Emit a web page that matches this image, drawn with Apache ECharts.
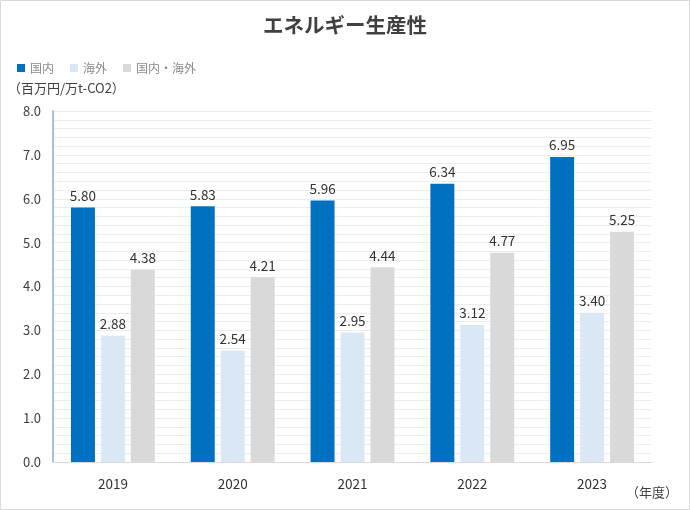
<!DOCTYPE html>
<html><head><meta charset="utf-8">
<script src="https://cdn.jsdelivr.net/npm/echarts@6/dist/echarts.min.js"></script>
<style>html,body{margin:0;padding:0;background:#fff}#c{width:690px;height:510px}</style>
</head><body><div id="c"></div>
<script>
const categories = ['2019','2020','2021','2022','2023'];
const domestic = [5.80, 5.83, 5.96, 6.34, 6.95];
const overseas = [2.88, 2.54, 2.95, 3.12, 3.40];
const combined = [4.38, 4.21, 4.44, 4.77, 5.25];
const seriesNames = ['国内', '海外', '国内・海外'];
const yTicks = ['0.0','1.0','2.0','3.0','4.0','5.0','6.0','7.0','8.0'];

const FONT = '"Noto Sans CJK JP", "Noto Sans", sans-serif';
const chart = echarts.init(document.getElementById('c'));
const lbl = {show:true, position:'top', distance:5, color:'#333333', fontSize:13.5, fontFamily:FONT,
  formatter: p => p.value.toFixed(2)};
chart.setOption({
  animation:false,
  textStyle:{fontFamily:FONT},
  title:{text:'エネルギー生産性', left:'center', top:10,
    textStyle:{fontSize:20.5, fontWeight:'bold', color:'#404040', fontFamily:FONT}},
  legend:{left:12, top:57, itemWidth:8, itemHeight:8, itemGap:16, icon:'rect',
    textStyle:{color:'#8c8c8c', fontSize:12, fontFamily:FONT}, data:seriesNames},
  graphic:[
    {type:'rect', shape:{x:0.5,y:0.5,width:689,height:509}, style:{fill:'none', stroke:'#d9d9d9', lineWidth:1}, silent:true},
    {type:'text', left:8, top:82, style:{text:'（百万円/万t-CO2）', fill:'#404040', fontSize:13, fontFamily:FONT}},
    {type:'text', right:12, top:486, style:{text:'（年度）', fill:'#404040', fontSize:13, fontFamily:FONT}}
  ],
  grid:{left:53, right:38, top:111, bottom:48, containLabel:false},
  xAxis:{type:'category', data:categories,
    axisLine:{lineStyle:{color:'#d9d9d9'}}, axisTick:{show:false},
    axisLabel:{color:'#333333', fontSize:13.5, margin:15, fontFamily:FONT}},
  yAxis:{type:'value', min:0, max:8, interval:0.2,
    axisLine:{show:true, lineStyle:{color:'#8eaadb', width:1.5}}, axisTick:{show:false},
    splitLine:{lineStyle:{color:'#ececec', width:1}},
    axisLabel:{color:'#404040', fontSize:13, margin:12, fontFamily:FONT,
      formatter: v => {const i = Math.round(v); return Math.abs(v - i) < 1e-6 ? yTicks[i] : '';}}},
  series:[
    {name:seriesNames[0], type:'bar', data:domestic, barWidth:'20%', barGap:'25%', itemStyle:{color:'#0070c0'}, label:lbl},
    {name:seriesNames[1], type:'bar', data:overseas, barWidth:'20%', barGap:'25%', itemStyle:{color:'#dae8f6'}, label:lbl},
    {name:seriesNames[2], type:'bar', data:combined, barWidth:'20%', barGap:'25%', itemStyle:{color:'#d9d9d9'}, label:lbl}
  ]
});
</script></body></html>
